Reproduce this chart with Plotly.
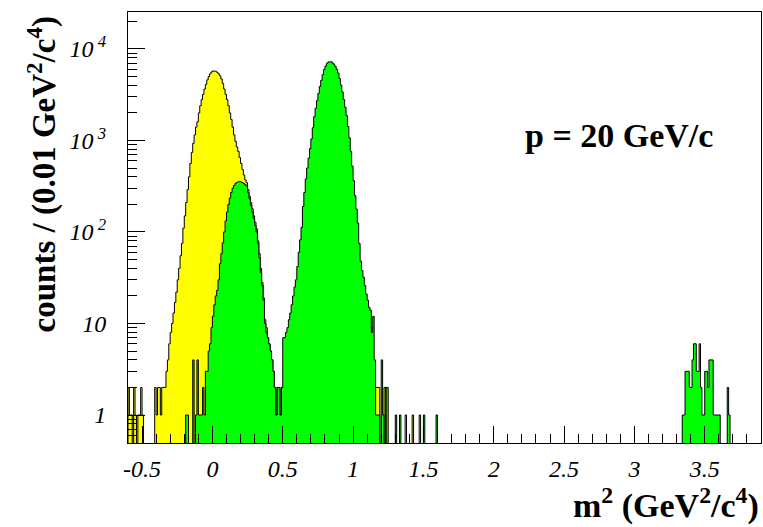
import plotly.graph_objects as go

# ---------------- data (counts per 0.01 GeV^2/c^4 bin) ----------------
x_min = -0.6
x_max = 3.9
bin_width = 0.01

# yellow histogram (all particles), bins starting at -0.60
total_lo = -0.60
total_counts = [
    2, 1, 1, 0, 2, 1, 0, 1, 1, 2,            # -0.60 .. -0.51
    1, 0, 0, 0, 0, 0, 0, 0, 0, 2,            # -0.50 .. -0.41
    1, 2, 2, 1, 2, 2, 2, 3, 4, 6,            # -0.40 .. -0.31
    8, 10, 13, 17, 22, 30, 40, 55, 75, 110,  # -0.30 .. -0.21
    150, 210, 290, 400, 560, 740, 930, 1150, 1400, 1600,   # -0.20 .. -0.11
    2000, 2400, 2800, 3200, 3650, 4100, 4600, 5000, 5350, 5600,  # -0.10 .. -0.01
    5750, 5800, 5700, 5550, 5350, 5100, 4700, 4200, 3650, 3200,  # 0.00 .. 0.09
    2800, 2400, 2000, 1700, 1400, 1150, 980, 850, 760, 650,      # 0.10 .. 0.19
    560, 480, 420, 370, 345, 290, 245, 210, 180, 150,            # 0.20 .. 0.29
    128, 108, 80, 58, 40, 28, 19, 11, 9, 7,                      # 0.30 .. 0.39
    6, 5, 4, 3, 2, 1, 2, 2, 1, 2,                                # 0.40 .. 0.49
]
total_extra_m2 = [1.13, 1.16, 1.17, 1.18, 1.22, 1.23, 1.24, 1.37, 1.42, 1.47]
total_extra_counts = [9, 2, 2, 2, 2, 2, 2, 1, 1, 1]

# green histogram (kaons + protons + deuterons), bins starting at -0.20
green_lo = -0.20
green_counts = [
    0, 1, 1, 0, 0, 0, 4, 0, 1, 4,            # -0.20 .. -0.11
    1, 1, 1, 2, 1, 3, 3, 5, 6, 9,            # -0.10 .. -0.01
    12, 16, 20, 23, 30, 45, 58, 76, 100, 132,            # 0.00 .. 0.09
    165, 200, 235, 270, 300, 322, 338, 348, 354, 356,    # 0.10 .. 0.19
    352, 346, 338, 328, 318, 270, 230, 195, 165, 140,    # 0.20 .. 0.29
    118, 100, 75, 52, 36, 26, 18, 10, 8, 7,              # 0.30 .. 0.39
    6, 5, 4, 3, 2, 1, 2, 2, 1, 2,                        # 0.40 .. 0.49
    7, 7, 8, 9, 11, 13, 16, 20, 25, 30,                  # 0.50 .. 0.59
    42, 60, 82, 112, 190, 270, 380, 500, 640, 815,       # 0.60 .. 0.69
    1040, 1380, 1820, 2250, 2720, 3270, 3890, 4540, 5240, 5950,  # 0.70 .. 0.79
    6500, 6950, 7200, 7300, 7250, 7050, 6800, 6450, 6000, 5450,  # 0.80 .. 0.89
    4750, 4040, 3390, 2800, 2310, 1870, 1420, 1070, 760, 525,    # 0.90 .. 0.99
    365, 250, 178, 125, 75, 48, 38, 32, 26, 21,                  # 1.00 .. 1.09
    18, 15, 14, 8, 12, 4, 1, 1, 1, 0,                            # 1.10 .. 1.19
    4, 1, 0, 2, 0, 0, 0, 0, 0, 0,                                # 1.20 .. 1.29
]
green_extra_m2 = [1.30, 1.33, 1.50, 1.59]
green_extra_counts = [1, 1, 1, 1]

# deuterons, bins starting at 3.34
deuteron_lo = 3.34
deuteron_counts = [1, 1, 3, 3, 3, 2, 2, 4, 6, 6,
                   3, 3, 6, 2, 1, 1, 3, 3, 2, 4,
                   4, 4, 1, 1, 1, 1, 1, 0, 0, 0,
                   0, 0, 2, 1]

x_major = [-0.5, 0, 0.5, 1, 1.5, 2, 2.5, 3, 3.5]
x_major_text = ["-0.5", "0", "0.5", "1", "1.5", "2", "2.5", "3", "3.5"]
y_major = [1, 10, 100, 1000, 10000]
y_major_text = ["1", "10", "10<sup> 2</sup>", "10<sup> 3</sup>", "10<sup> 4</sup>"]

# ---------------- assemble full histograms ----------------
n_bins = int(round((x_max - x_min) / bin_width))


def idx(m2):
    return int(round((m2 - x_min) / bin_width))


def fill(arr, lo, counts):
    i0 = idx(lo)
    for k, c in enumerate(counts):
        arr[i0 + k] += c


total = [0] * n_bins
fill(total, total_lo, total_counts)
for m, c in zip(total_extra_m2, total_extra_counts):
    total[idx(m)] += c

green = [0] * n_bins
fill(green, green_lo, green_counts)
fill(green, deuteron_lo, deuteron_counts)
for m, c in zip(green_extra_m2, green_extra_counts):
    green[idx(m)] += c

FLOOR = 0.3  # below the visible axis range (clipped)


def step_xy(counts):
    xs, ys = [x_min], [FLOOR]
    for i, c in enumerate(counts):
        e0 = x_min + i * bin_width
        e1 = e0 + bin_width
        v = c if c > 0 else FLOOR
        xs += [e0, e1]
        ys += [v, v]
    xs.append(x_max)
    ys.append(FLOOR)
    return xs, ys


fig = go.Figure()
for counts, col in [(total, "#FFFF00"), (green, "#00FF00")]:
    xs, ys = step_xy(counts)
    fig.add_trace(go.Scatter(x=xs, y=ys, mode="lines", fill="toself",
                             fillcolor=col, line=dict(color="black", width=1),
                             hoverinfo="skip", showlegend=False))

serif = "Liberation Serif"
x_minor = [round(-0.6 + 0.1 * k, 2) for k in range(46)]
x_minor = [v for v in x_minor if all(abs(v - t) > 1e-6 for t in x_major)]
y_minor = []
for dec in [0.1, 1, 10, 100, 1000, 10000]:
    for d in range(2, 10):
        y_minor.append(d * dec)

fig.update_layout(
    width=763, height=527,
    margin=dict(l=128, r=2, t=12, b=84),
    paper_bgcolor="white", plot_bgcolor="white",
    xaxis=dict(range=[x_min, x_max], tickmode="array", tickvals=x_major, ticktext=x_major_text,
               ticks="inside", ticklen=17, tickwidth=1, tickcolor="black",
               minor=dict(tickmode="array", tickvals=x_minor, ticks="inside", ticklen=9,
                          tickwidth=1, tickcolor="black", showgrid=False),
               showline=True, linecolor="black", linewidth=1, mirror=True,
               showgrid=False, zeroline=False,
               tickfont=dict(family=serif, size=24, color="black", style="italic"),
               ticklabelstandoff=4),
    yaxis=dict(type="log", range=[-0.306, 4.404], tickmode="array", tickvals=y_major,
               ticktext=y_major_text,
               ticks="inside", ticklen=17, tickwidth=1, tickcolor="black",
               minor=dict(tickmode="array", tickvals=y_minor, ticks="inside", ticklen=9,
                          tickwidth=1, tickcolor="black", showgrid=False),
               showline=True, linecolor="black", linewidth=1, mirror=True,
               showgrid=False, zeroline=False,
               tickfont=dict(family=serif, size=24, color="black", style="italic"),
               ticklabelstandoff=16),
    annotations=[
        dict(text="counts / (0.01 GeV<sup>2</sup>/c<sup>4</sup>)", xref="paper", yref="paper",
             x=-0.135, y=0.622, xanchor="center", yanchor="middle", textangle=-90,
             showarrow=False, font=dict(family=serif, size=33, color="black", weight="bold")),
        dict(text="m<sup>2</sup> (GeV<sup>2</sup>/c<sup>4</sup>)", xref="paper", yref="paper",
             x=1.0, y=-0.14, xanchor="right", yanchor="middle",
             showarrow=False, font=dict(family=serif, size=34, color="black", weight="bold")),
        dict(text="p = 20 GeV/c", xref="paper", yref="paper",
             x=0.775, y=0.7146, xanchor="center", yanchor="middle",
             showarrow=False, font=dict(family=serif, size=34, color="black", weight="bold")),
    ],
)

fig.write_html("out.html")
